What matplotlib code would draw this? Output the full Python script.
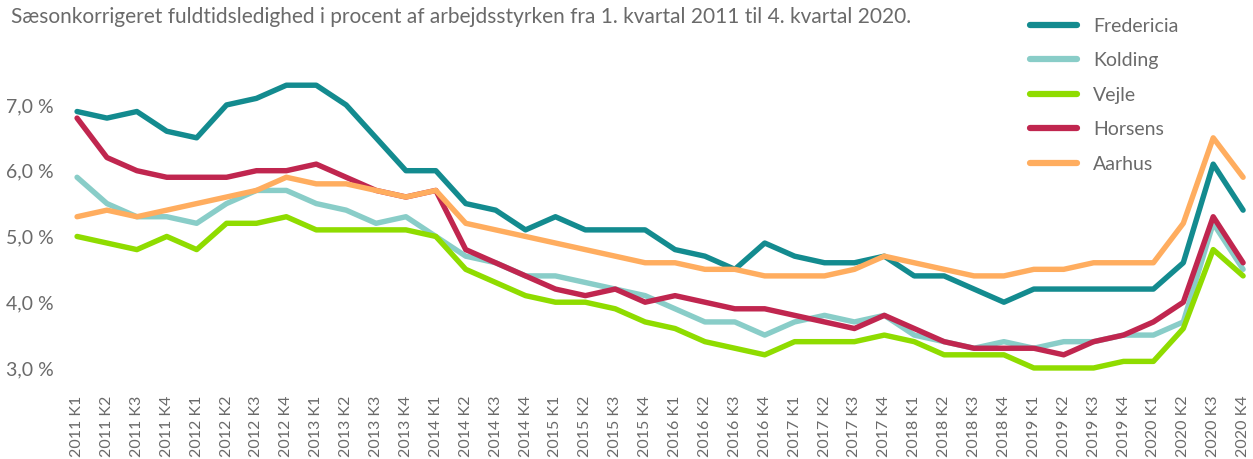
import numpy as np
import matplotlib
matplotlib.use("Agg")
import matplotlib.pyplot as plt

plt.rcParams['font.family'] = ['Lato', 'DejaVu Sans']

# kvartaler 2011 K1 - 2020 K4
years = list(range(2011, 2021))
quarters = ['%d K%d' % (y, q) for y in years for q in range(1, 5)]

fredericia = [6.9, 6.8, 6.9, 6.6, 6.5, 7.0, 7.1, 7.3, 7.3, 7.0, 6.5, 6.0, 6.0, 5.5, 5.4, 5.1,
              5.3, 5.1, 5.1, 5.1, 4.8, 4.7, 4.5, 4.9, 4.7, 4.6, 4.6, 4.7, 4.4, 4.4, 4.2, 4.0,
              4.2, 4.2, 4.2, 4.2, 4.2, 4.6, 6.1, 5.4]
kolding = [5.9, 5.5, 5.3, 5.3, 5.2, 5.5, 5.7, 5.7, 5.5, 5.4, 5.2, 5.3, 5.0, 4.7, 4.6, 4.4,
           4.4, 4.3, 4.2, 4.1, 3.9, 3.7, 3.7, 3.5, 3.7, 3.8, 3.7, 3.8, 3.5, 3.4, 3.3, 3.4,
           3.3, 3.4, 3.4, 3.5, 3.5, 3.7, 5.2, 4.5]
vejle = [5.0, 4.9, 4.8, 5.0, 4.8, 5.2, 5.2, 5.3, 5.1, 5.1, 5.1, 5.1, 5.0, 4.5, 4.3, 4.1,
         4.0, 4.0, 3.9, 3.7, 3.6, 3.4, 3.3, 3.2, 3.4, 3.4, 3.4, 3.5, 3.4, 3.2, 3.2, 3.2,
         3.0, 3.0, 3.0, 3.1, 3.1, 3.6, 4.8, 4.4]
horsens = [6.8, 6.2, 6.0, 5.9, 5.9, 5.9, 6.0, 6.0, 6.1, 5.9, 5.7, 5.6, 5.7, 4.8, 4.6, 4.4,
           4.2, 4.1, 4.2, 4.0, 4.1, 4.0, 3.9, 3.9, 3.8, 3.7, 3.6, 3.8, 3.6, 3.4, 3.3, 3.3,
           3.3, 3.2, 3.4, 3.5, 3.7, 4.0, 5.3, 4.6]
aarhus = [5.3, 5.4, 5.3, 5.4, 5.5, 5.6, 5.7, 5.9, 5.8, 5.8, 5.7, 5.6, 5.7, 5.2, 5.1, 5.0,
          4.9, 4.8, 4.7, 4.6, 4.6, 4.5, 4.5, 4.4, 4.4, 4.4, 4.5, 4.7, 4.6, 4.5, 4.4, 4.4,
          4.5, 4.5, 4.6, 4.6, 4.6, 5.2, 6.5, 5.9]

series = [('Fredericia', fredericia, '#138b8f'),
          ('Kolding', kolding, '#89cdc8'),
          ('Vejle', vejle, '#8fdc00'),
          ('Horsens', horsens, '#c0264f'),
          ('Aarhus', aarhus, '#ffad5f')]

yticks = [3.0, 4.0, 5.0, 6.0, 7.0]
ytick_labels = ['3,0 %', '4,0 %', '5,0 %', '6,0 %', '7,0 %']

gray = '#6a6a6a'

fig = plt.figure(figsize=(12.53, 4.59), dpi=100)
ax = fig.add_axes([0.0615, 0.184, 0.9306, 0.659])

x = np.arange(len(quarters))
lines = []
for name, vals, col in series:
    ln, = ax.plot(x, vals, color=col, lw=3.9, label=name, clip_on=False,
                  solid_capstyle='round', solid_joinstyle='round')
    lines.append(ln)

ax.set_xlim(0, len(quarters) - 1)
ax.set_ylim(2.9, 7.5)
ax.set_xticks(x)
ax.set_xticklabels(quarters, rotation=90, fontsize=11.5, color=gray)
ax.set_yticks(yticks)
ax.set_yticklabels(ytick_labels, fontsize=14, color=gray)
ax.tick_params(axis='x', length=0, pad=15)
ax.tick_params(axis='y', length=0, pad=17)
for sp in ax.spines.values():
    sp.set_visible(False)

fig.text(0.009, 0.962, 'Sæsonkorrigeret fuldtidsledighed i procent af arbejdsstyrken fra 1. kvartal 2011 til 4. kvartal 2020.',
         fontsize=15, color=gray, va='center', ha='left')

leg = fig.legend(handles=lines, loc='upper left', bbox_to_anchor=(0.808, 1.0),
                 frameon=False, fontsize=14, handlelength=2.4, handletextpad=0.85,
                 labelspacing=0.9)
for t in leg.get_texts():
    t.set_color(gray)
for h in leg.legend_handles:
    h.set_linewidth(4.5)
    h.set_solid_capstyle('round')

fig.savefig('out.png', dpi=100)
